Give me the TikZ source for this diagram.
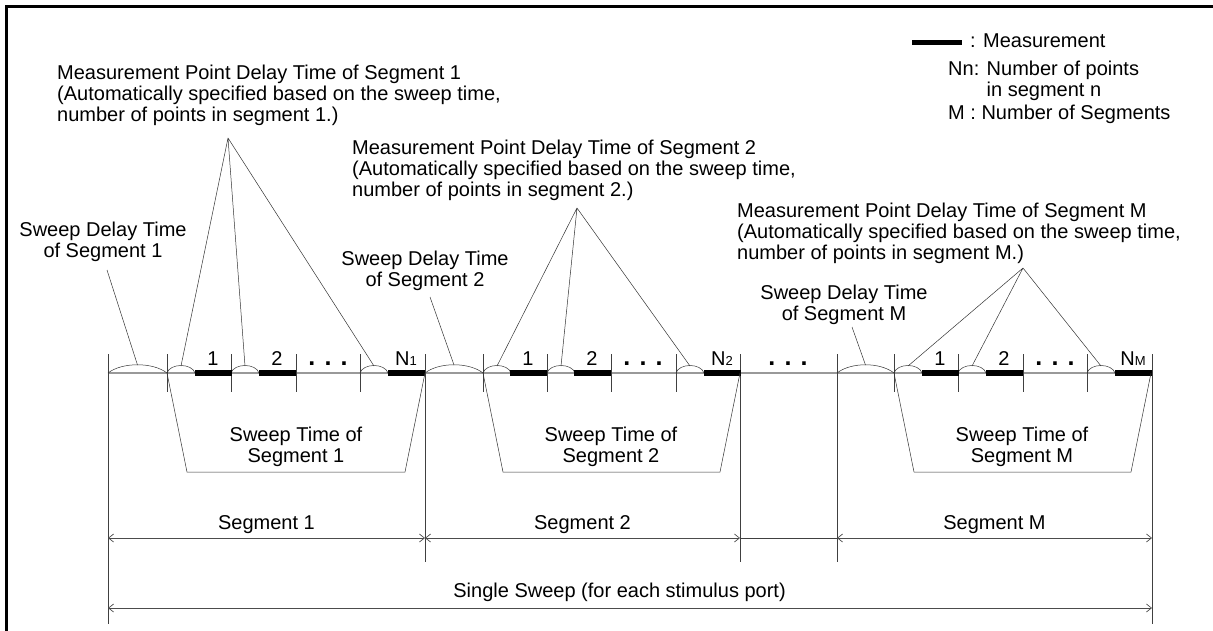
\documentclass[tikz,border=0pt]{standalone}
\usepackage{fontspec}
\setmainfont{Liberation Sans}
\usetikzlibrary{arrows.meta,positioning,calc}

\begin{document}
\begin{tikzpicture}[
  x=1pt, y=-1pt,
  font=\fontsize{20}{21}\selectfont,
  lbl/.style={align=left, inner sep=0pt, anchor=west},
  clbl/.style={align=center, inner sep=0pt},
  num/.style={inner sep=0pt, anchor=base},
  dots/.style={inner sep=0pt, anchor=base, font=\fontsize{25}{25}\selectfont\bfseries},
  leader/.style={line width=0.5pt, black!80},
  tick/.style={line width=0.6pt, black!75},
  axis/.style={line width=1.2pt, black!40},
  bar/.style={line width=6pt},
  dimline/.style={{Straight Barb[length=5pt,width=8pt]}-{Straight Barb[length=5pt,width=8pt]}, line width=0.7pt, draw=black!70}
]
\useasboundingbox (0,0) rectangle (1213,630);
% frame
\draw[line width=3pt] (6,640) -- (6,6) -- (1220,6);

% time axis
\draw[axis] (108,373) -- (1152,373);
\foreach \x in {167,231,296,360,483,547,611,676,894,958,1023,1087}
  \draw[tick] (\x,354) -- (\x,392);
\foreach \x in {108,1152}
  \draw[tick] (\x,354) -- (\x,624);
\foreach \x in {425,740,837}
  \draw[tick] (\x,354) -- (\x,562);

% sweep delay arcs
\foreach \a/\b/\n in {108/167/d1,425/483/d2,837/894/dM}{
  \draw[leader] (\a,373) .. controls (\a+14,362) and (\b-14,362) .. (\b,373);
  \coordinate (\n) at ({(\a+\b)/2},365);
}
% point delay arcs
\foreach \a/\n in {167/m11,231/m12,360/m1n,483/m21,547/m22,676/m2n,894/mM1,958/mM2,1087/mMn}{
  \draw[leader] (\a,373) .. controls (\a+3,363) and (\a+25,363) .. (\a+28,373);
  \coordinate (\n) at (\a+14,366);
}
% measurements
\foreach \a in {195,259,388,510,574,704,922,986,1115}
  \draw[bar] (\a,373) -- (\a+36.5,373);

\node[num] (n11) at (213,365) {1};
\node[num] (n12) at (277,365) {2};
\node[num] (n1n) at (406,365) {N{\fontsize{13}{13}\selectfont 1}};
\node[num] (n21) at (528,365) {1};
\node[num] (n22) at (592,365) {2};
\node[num] (n2n) at (722,365) {N{\fontsize{13}{13}\selectfont 2}};
\node[num] (nM1) at (940,365) {1};
\node[num] (nM2) at (1004,365) {2};
\node[num] (nMn) at (1133,365) {N{\fontsize{13}{13}\selectfont M}};
\node[dots] (e1) at (328,365) {. . .};
\node[dots] (e2) at (643,365) {. . .};
\node[dots] (e3) at (788,365) {. . .};
\node[dots] (eM) at (1055,365) {. . .};

% sweep delay labels
\node[clbl] (sd1) at (103,242) {Sweep Delay Time\\of Segment 1};
\node[clbl] (sd2) at (425,271) {Sweep Delay Time\\of Segment 2};
\node[clbl] (sdM) at (844,305) {Sweep Delay Time\\of Segment M};
\coordinate (q1) at (107,270);
\coordinate (q2) at (430,297);
\coordinate (qM) at (852,327);
\draw[leader] (q1) -- (d1);
\draw[leader] (q2) -- (d2);
\draw[leader] (qM) -- (dM);

% point delay labels
\node[lbl] (mpd1) at (57,95) {Measurement Point Delay Time of Segment 1\\(Automatically specified based on the sweep time,\\number of points in segment 1.)};
\node[lbl] (mpd2) at (352,170) {Measurement Point Delay Time of Segment 2\\(Automatically specified based on the sweep time,\\number of points in segment 2.)};
\node[lbl] (mpdM) at (737,233) {Measurement Point Delay Time of Segment M\\(Automatically specified based on the sweep time,\\number of points in segment M.)};
\coordinate (p1) at (228,138);
\coordinate (p2) at (577,208);
\coordinate (pM) at (1023,268);
\draw[leader] (p1) -- (m11) (p1) -- (m12) (p1) -- (m1n);
\draw[leader] (p2) -- (m21) (p2) -- (m22) (p2) -- (m2n);
\draw[leader] (pM) -- (mM1) (pM) -- (mM2) (pM) -- (mMn);

% sweep time brackets
\draw[leader] (167,373) -- (187,472) -- (405,472) -- (425,373);
\draw[leader] (483,373) -- (503,472) -- (720,472) -- (740,373);
\draw[leader] (894,373) -- (914,472) -- (1131,472) -- (1151,373);
\node[clbl] (sw1) at (296,447) {Sweep Time of\\Segment 1};
\node[clbl] (sw2) at (611,447) {Sweep Time of\\Segment 2};
\node[clbl] (swM) at (1022,447) {Sweep Time of\\Segment M};

% segments
\coordinate (b0) at (108,538);
\coordinate (b1) at (425,538);
\coordinate (b2) at (740,538);
\coordinate (b3) at (837,538);
\coordinate (b4) at (1152,538);
\draw[dimline] (b0) -- node[above=4pt, inner sep=0pt] (seg1) {Segment 1} (b1);
\draw[dimline] (b1) -- node[above=4pt, inner sep=0pt] (seg2) {Segment 2} (b2);
\draw[tick] (b2) -- (b3);
\draw[dimline] (b3) -- node[above=4pt, inner sep=0pt] (segM) {Segment M} (b4);
\coordinate (w0) at (108,608);
\coordinate (w1) at (1152,608);
\draw[dimline] (w0) -- node[above=6pt, inner sep=0pt, pos=0.49] (single) {Single Sweep (for each stimulus port)} (w1);

% legend
\coordinate (k0) at (912,42);
\coordinate (k1) at (962,42);
\draw[line width=5pt] (k0) -- (k1);
\node[lbl] (key1) at (970,41) {: Measurement};
\node[lbl] (key2) at (948,81) {Nn: Number of points\\\phantom{Nn: }in segment n};
\node[lbl] (key3) at (948,114) {M : Number of Segments};
\end{tikzpicture}
\end{document}
